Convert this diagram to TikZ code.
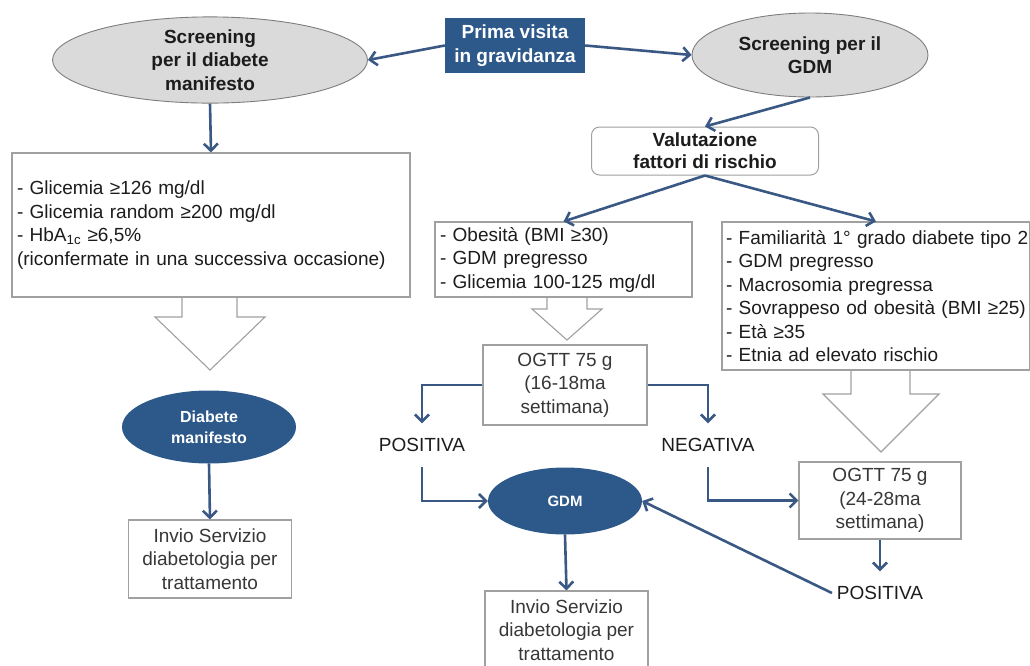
\documentclass[tikz,border=0pt]{standalone}
\usepackage{fontspec}
\setmainfont{Liberation Sans}
\usetikzlibrary{arrows.meta,shapes.geometric}
\definecolor{navy}{RGB}{44,88,138}
\definecolor{arrowc}{RGB}{58,88,132}
\definecolor{ellgray}{RGB}{218,218,218}
\definecolor{ellbord}{RGB}{125,125,125}
\definecolor{bordgray}{RGB}{160,160,160}
\definecolor{txt}{RGB}{28,28,28}
\definecolor{txtg}{RGB}{55,55,55}
\newcommand\fntL{\fontsize{19}{23.5}\selectfont}
\begin{document}
\begin{tikzpicture}[x=1pt,y=-1pt,
  arr/.style={draw=arrowc, line width=2.6pt, -{Straight Barb[length=7pt,width=14pt]}},
  grayell/.style={ellipse, draw=ellbord, line width=0.9pt, fill=ellgray, inner sep=0pt,
    align=center, font=\fntL\bfseries, text=txt},
  navybox/.style={rectangle, fill=navy, inner sep=0pt, align=center,
    font=\fntL\bfseries, text=white},
  navyell/.style={ellipse, fill=navy, inner sep=0pt, align=center, text=white},
  roundbox/.style={rectangle, rounded corners=8pt, draw=bordgray, line width=1pt, fill=white,
    inner sep=0pt, align=center, font=\fontsize{19}{22}\selectfont\bfseries, text=txt},
  listbox/.style={rectangle, draw=bordgray, line width=1.1pt, fill=white, inner ysep=0pt,
    inner xsep=5pt, align=left, font=\fntL, text=txt},
  obox/.style={rectangle, draw=bordgray, line width=1.1pt, fill=white, inner sep=0pt,
    align=center, font=\fntL, text=txtg},
  plain/.style={inner sep=3pt, outer xsep=2pt, outer ysep=12pt, font=\fontsize{19}{22}\selectfont, text=txt},
  hollow/.style={draw=bordgray, line width=1.1pt, line join=miter}
]
\useasboundingbox (0,0) rectangle (1030,665);
\clip (0,0) rectangle (1030,665);

% top row
\node[grayell, minimum width=315, minimum height=74] (sdm) at (210,60) {Screening\\per il diabete\\manifesto};
\node[navybox, minimum width=140, minimum height=55] (prima) at (515,45.5) {Prima visita\\in gravidanza};
\node[grayell, minimum width=236, minimum height=84] (sgdm) at (810,55) {Screening per il\\GDM};
\node[roundbox, minimum width=227, minimum height=48] (val) at (705,151) {Valutazione\\fattori di rischio};

% lists
\node[listbox, minimum height=144, text width=388] (l1) at (211,225)
  {- Glicemia ≥126 mg/dl\\- Glicemia random ≥200 mg/dl\\- HbA\textsubscript{1c} ≥6,5\%\\(riconfermate in una successiva occasione)};
\node[listbox, minimum height=75, text width=247] (l2) at (563.5,259.5)
  {- Obesità (BMI ≥30)\\- GDM pregresso\\- Glicemia 100-125 mg/dl};
\node[listbox, inner xsep=4pt, minimum height=148, text width=300] (l3) at (876,296)
  {\mbox{- Familiarità 1° grado diabete tipo 2}\\- GDM pregresso\\- Macrosomia pregressa\\\mbox{- Sovrappeso od obesità (BMI ≥25)}\\- Età ≥35\\- Etnia ad elevato rischio};

% hollow arrows
\draw[hollow] (182,297) -- (182,317) -- (155,317) -- (210,370) -- (265,317) -- (237,317) -- (237,297);
\draw[hollow] (547,297) -- (547,309) -- (532,309) -- (567,340) -- (602,309) -- (587,309) -- (587,297);
\draw[hollow] (851,370) -- (851,394) -- (823,394) -- (881,452) -- (939,394) -- (910,394) -- (910,370);

% lower nodes
\node[navyell, minimum width=174, minimum height=73, font=\fontsize{16}{21}\selectfont\bfseries] (diab) at (209,427) {Diabete\\manifesto};
\node[obox, minimum width=163, minimum height=78] (inv1) at (210,559) {Invio Servizio\\diabetologia per\\trattamento};
\node[obox, minimum width=164, minimum height=80] (og1) at (565,385) {OGTT 75 g\\(16-18ma\\settimana)};
\node[plain] (pos1) at (422,445) {POSITIVA};
\node[plain] (neg) at (708,445) {NEGATIVA};
\node[navyell, minimum width=154, minimum height=67, font=\fontsize{15}{18}\selectfont\bfseries] (gdm) at (565,501) {GDM};
\node[obox, minimum width=162, minimum height=77] (og2) at (880,500.5) {OGTT 75 g\\(24-28ma\\settimana)};
\node[plain] (pos2) at (880,593) {POSITIVA};
\node[obox, minimum width=163, minimum height=78] (inv2) at (566.5,630) {Invio Servizio\\diabetologia per\\trattamento};

% connectors
\draw[arr] (prima.west) -- (sdm.east);
\draw[arr] (prima.east) -- (sgdm.west);
\draw[arr] (sdm.south) -- (l1.north);
\draw[arr] (sgdm.south) -- (val.north);
\draw[arr] (val.south) -- (l2.north);
\draw[arr] (val.south) -- (l3.north);
\draw[arr] (og1.west) -| (pos1.north);
\draw[arr] (og1.east) -| (neg.north);
\draw[arr] (pos1.south) |- (gdm.west);
\draw[arr] (neg.south) |- (og2.west);
\draw[arr] (og2.south) -- (pos2.north);
\draw[arr] (pos2.west) -- (gdm.east);
\draw[arr] (gdm.south) -- (inv2.north);
\draw[arr] (diab.south) -- (inv1.north);
\end{tikzpicture}
\end{document}
